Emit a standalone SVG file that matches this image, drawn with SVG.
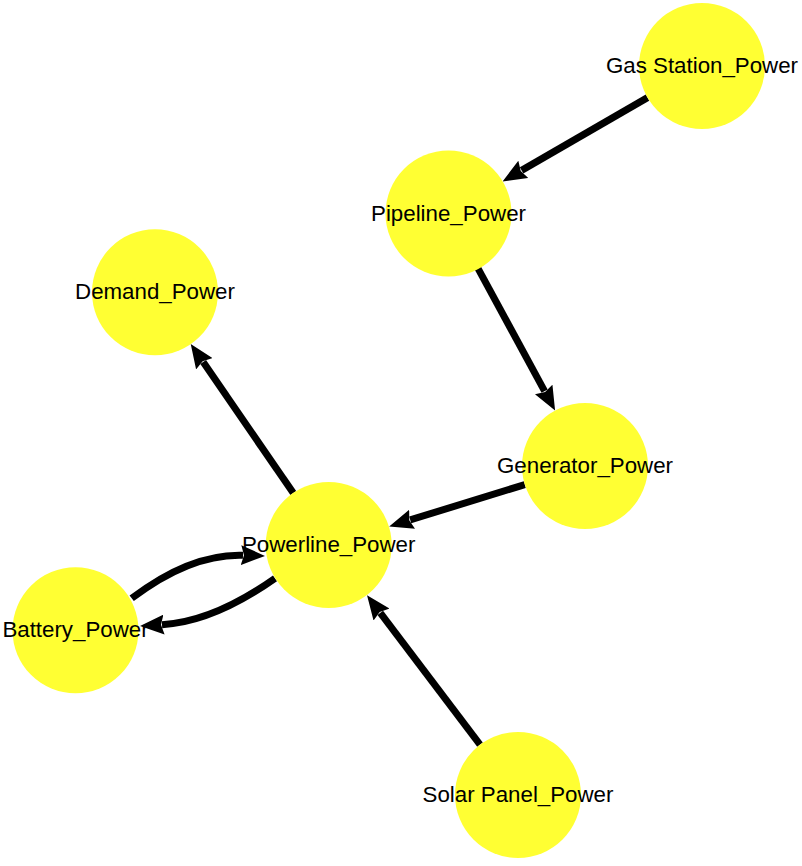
<svg xmlns="http://www.w3.org/2000/svg" width="802" height="866" viewBox="0 0 802 866">
<style>
.node circle{fill:#ffff33;stroke:none}
.node text{font-family:"Liberation Sans",Arial,sans-serif;font-size:22.3px;fill:#000;text-anchor:middle}
.edge{fill:none;stroke:#000;stroke-width:7;marker-end:url(#arrow)}
</style>
<defs>
<marker id="arrow" markerUnits="userSpaceOnUse" viewBox="0 0 24 20" markerWidth="24" markerHeight="20" refX="2" refY="10" orient="auto">
<path d="M0,0 L24,10 L0,20 L3,10 z" fill="#000"/>
</marker>
</defs>
<rect width="802" height="866" fill="#fff"/>
<g id="connectors">
<path class="edge" d="M647.5,97.6 L521.6,170.4"/>
<path class="edge" d="M478,268.4 L544.6,391.2"/>
<path class="edge" d="M524.8,484.6 L410.2,519.9"/>
<path class="edge" d="M293.3,493.1 L203.2,362.1"/>
<path class="edge" d="M480,744.7 L380.3,612.9"/>
<path class="edge" d="M131.7,598.3 Q190.5,553.5 243,555.2"/>
<path class="edge" d="M275,578.3 Q213.5,621.7 162,624.7"/>
</g>
<g id="node-gas-station" class="node"><circle cx="702" cy="66" r="63"/><text x="702" y="73">Gas Station_Power</text></g>
<g id="node-pipeline" class="node"><circle cx="448.5" cy="213.5" r="63"/><text x="448.5" y="220.5">Pipeline_Power</text></g>
<g id="node-demand" class="node"><circle cx="155" cy="292.3" r="63"/><text x="155" y="299">Demand_Power</text></g>
<g id="node-generator" class="node"><circle cx="585" cy="466" r="63"/><text x="585" y="473">Generator_Power</text></g>
<g id="node-powerline" class="node"><circle cx="328.7" cy="545" r="63"/><text x="328.7" y="552">Powerline_Power</text></g>
<g id="node-battery" class="node"><circle cx="75.5" cy="630.3" r="63"/><text x="75.5" y="637">Battery_Power</text></g>
<g id="node-solar" class="node"><circle cx="518" cy="795" r="63"/><text x="518" y="802">Solar Panel_Power</text></g>
</svg>
